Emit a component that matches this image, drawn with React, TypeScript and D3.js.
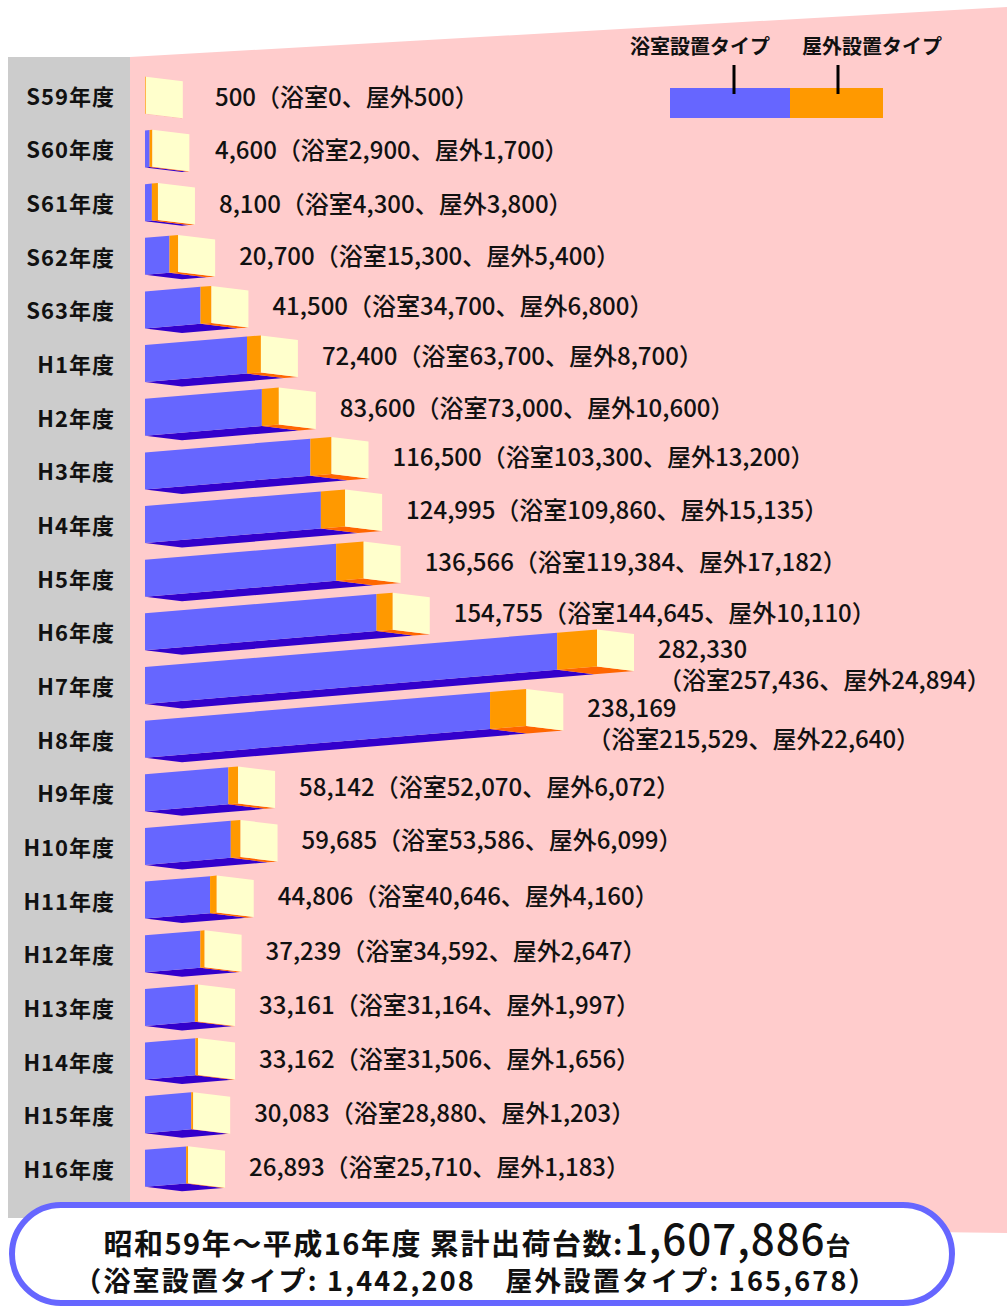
import React from 'react'
import * as d3 from 'd3'

// 年度別 出荷台数
const categories = [
  'S59年度', 'S60年度', 'S61年度', 'S62年度', 'S63年度',
  'H1年度', 'H2年度', 'H3年度', 'H4年度', 'H5年度', 'H6年度',
  'H7年度', 'H8年度', 'H9年度', 'H10年度', 'H11年度', 'H12年度',
  'H13年度', 'H14年度', 'H15年度', 'H16年度',
]
const bathroom = [
  0, 2900, 4300, 15300, 34700, 63700, 73000, 103300, 109860, 119384, 144645,
  257436, 215529, 52070, 53586, 40646, 34592, 31164, 31506, 28880, 25710,
]
const outdoor = [
  500, 1700, 3800, 5400, 6800, 8700, 10600, 13200, 15135, 17182, 10110,
  24894, 22640, 6072, 6099, 4160, 2647, 1997, 1656, 1203, 1183,
]
const totals = [
  500, 4600, 8100, 20700, 41500, 72400, 83600, 116500, 124995, 136566, 154755,
  282330, 238169, 58142, 59685, 44806, 37239, 33161, 33162, 30083, 26893,
]

const legendLabels = ['浴室設置タイプ', '屋外設置タイプ']
const cumulative = { total: 1607886, bath: 1442208, outdoor: 165678 }

const BLUE = '#6666ff'
const BLUE_DARK = '#3300cc'
const ORANGE = '#ff9900'
const ORANGE_DARK = '#ff6600'
const CREAM = '#ffffcc'
const PINK = '#ffcccc'
const GRAY = '#cccccc'
const FONT = "'Noto Sans CJK JP', 'Noto Sans', sans-serif"

const X0 = 145
const SLOPE = 0.083
const DX = 37
const DY = 4.5
const HALF = 18.5

const poly = (pts: number[][]) => pts.map((p) => p.join(',')).join(' ')

export default function App() {
  const fmt = d3.format(',')
  const y = d3
    .scaleBand()
    .domain(categories)
    .range([70, 70 + categories.length * 53.65])
  const len = d3
    .scaleLinear()
    .domain([0, d3.max(totals) as number])
    .range([0, 452])

  const rows = categories.map((cat, i) => {
    const yc = (y(cat) as number) + y.bandwidth() / 2 - 1.5
    const yT = (x: number) => yc - HALF - SLOPE * (x - X0)
    const yB = (x: number) => yc + HALF - SLOPE * (x - X0)
    const xb = X0 + len(bathroom[i])
    const xe = X0 + len(bathroom[i] + outdoor[i])
    const endC = yc - SLOPE * (xe - X0)
    const tx = Math.max(215, xe + DX + 24)
    return { cat, i, yc, yT, yB, xb, xe, endC, tx, wrap: tx > 520 }
  })

  return (
    <svg
      width={1007}
      height={1306}
      style={{ position: 'absolute', left: 0, top: 0, fontFamily: FONT }}
    >
      <rect width={1007} height={1306} fill="#fff" />
      <polygon points={poly([[130, 57], [1007, 7], [1007, 1233], [130, 1221]])} fill={PINK} />
      <rect x={8} y={57} width={122} height={1161} fill={GRAY} />

      {/* legend */}
      <g>
        <text x={630} y={54} fontSize={20} fontWeight={700} fill="#111">{legendLabels[0]}</text>
        <text x={802} y={54} fontSize={20} fontWeight={700} fill="#111">{legendLabels[1]}</text>
        <rect x={670} y={88} width={120} height={30} fill={BLUE} />
        <rect x={790} y={88} width={93} height={30} fill={ORANGE} />
        <line x1={734} x2={734} y1={65} y2={94} stroke="#000" strokeWidth={3} />
        <line x1={838} x2={838} y1={65} y2={94} stroke="#000" strokeWidth={3} />
      </g>

      {rows.map((r) => (
        <g key={r.cat}>
          <text
            x={115}
            y={r.yc + 9.5}
            textAnchor="end"
            fontSize={22}
            fontWeight={700}
            letterSpacing={1}
            fill="#111"
          >
            {r.cat}
          </text>
          {/* bottom faces */}
          <polygon
            points={poly([
              [X0, r.yB(X0)], [r.xb, r.yB(r.xb)],
              [r.xb + DX, r.yB(r.xb) + DY], [X0 + DX, r.yB(X0) + DY],
            ])}
            fill={BLUE_DARK}
          />
          <polygon
            points={poly([
              [r.xb, r.yB(r.xb)], [r.xe, r.yB(r.xe)],
              [r.xe + DX, r.yB(r.xe) + DY], [r.xb + DX, r.yB(r.xb) + DY],
            ])}
            fill={ORANGE_DARK}
          />
          {/* front faces */}
          <polygon
            points={poly([
              [X0, r.yT(X0)], [r.xb, r.yT(r.xb)], [r.xb, r.yB(r.xb)], [X0, r.yB(X0)],
            ])}
            fill={BLUE}
          />
          <polygon
            points={poly([
              [r.xb, r.yT(r.xb)], [r.xe, r.yT(r.xe)], [r.xe, r.yB(r.xe)], [r.xb, r.yB(r.xb)],
            ])}
            fill={ORANGE}
          />
          {/* end cap */}
          <polygon
            points={poly([
              [r.xe, r.yT(r.xe)], [r.xe + DX, r.yT(r.xe) + DY],
              [r.xe + DX, r.yB(r.xe) + DY], [r.xe, r.yB(r.xe)],
            ])}
            fill={CREAM}
          />
          {r.wrap ? (
            <text x={r.tx} y={r.endC + 10} fontSize={24} fontWeight={500} fill="#111">
              {fmt(totals[r.i])}
              <tspan x={r.tx} dy={31}>
                {`（浴室${fmt(bathroom[r.i])}、屋外${fmt(outdoor[r.i])}）`}
              </tspan>
            </text>
          ) : (
            <text x={r.tx} y={r.endC + 11} fontSize={24} fontWeight={500} fill="#111">
              {fmt(totals[r.i])}
              {`（浴室${fmt(bathroom[r.i])}、屋外${fmt(outdoor[r.i])}）`}
            </text>
          )}
        </g>
      ))}

      {/* footer */}
      <rect x={12} y={1205} width={940} height={98} rx={49} fill="#fff" stroke={BLUE} strokeWidth={6} />
      <text x={477} y={1255} textAnchor="middle" fontWeight={700} fill="#111">
        <tspan fontSize={29} letterSpacing={1.5}>昭和59年～平成16年度 累計出荷台数:</tspan>
        <tspan fontSize={42} fontWeight={500} letterSpacing={1}>{fmt(cumulative.total)}</tspan>
        <tspan fontSize={25}>台</tspan>
      </text>
      <text
        x={476}
        y={1291}
        textAnchor="middle"
        fontSize={27}
        fontWeight={700}
        letterSpacing={2.2}
        fill="#111"
      >
        {`（浴室設置タイプ: ${fmt(cumulative.bath)}　屋外設置タイプ: ${fmt(cumulative.outdoor)}）`}
      </text>
    </svg>
  )
}
